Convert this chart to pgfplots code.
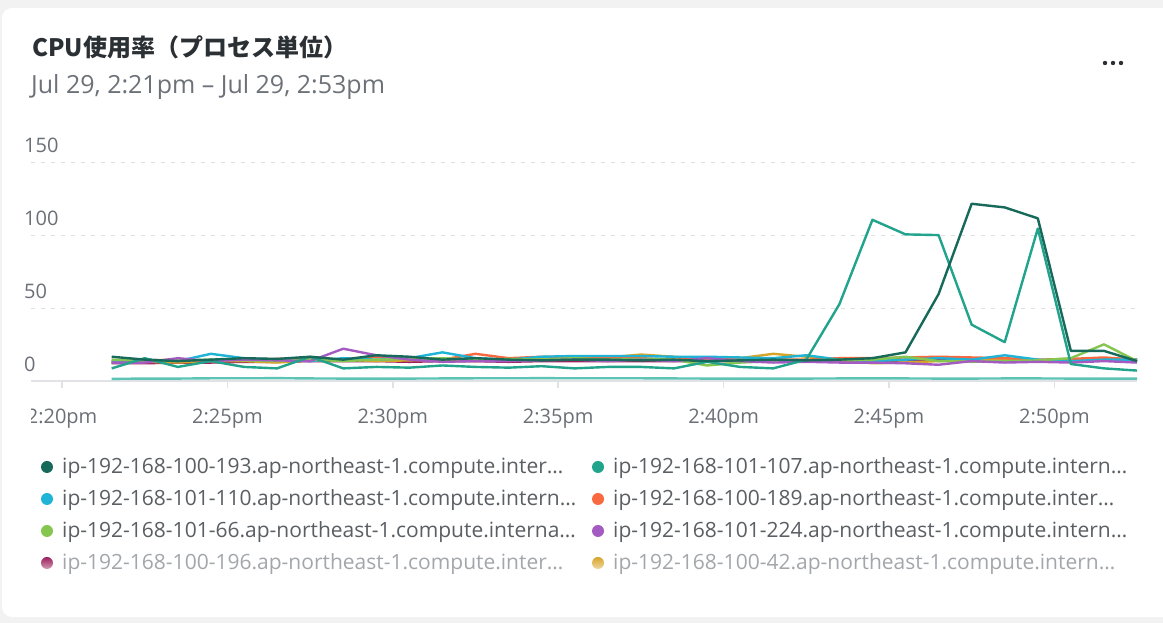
\documentclass[border=0pt]{standalone}
\usepackage{fontspec}
\setmainfont{Open Sans}
\newfontfamily\cjk{Noto Sans CJK JP}
\usepackage{pgfplots}
\pgfplotsset{compat=1.18}
\usepackage{pgfplotstable}
\definecolor{bgc}{HTML}{F2F2F2}
\definecolor{titlec}{HTML}{2B3035}
\definecolor{subc}{HTML}{6D7278}
\definecolor{tickc}{HTML}{6B7077}
\definecolor{legc}{HTML}{5A5F64}
\definecolor{legfade}{HTML}{A3A7AB}
\definecolor{gridc}{HTML}{DEDFE1}
\definecolor{axc}{HTML}{E0E2E5}
\definecolor{cA}{HTML}{17695A}
\definecolor{cB}{HTML}{22A38C}
\definecolor{cC}{HTML}{1FB3D6}
\definecolor{cD}{HTML}{F8693F}
\definecolor{cE}{HTML}{84C650}
\definecolor{cF}{HTML}{A35BC2}
\definecolor{cG}{HTML}{9C1F5C}
\definecolor{cH}{HTML}{D8A52B}
\definecolor{cI}{HTML}{5CC3B5}
\pgfplotstableread{
t    A     B     C    D    E    F    G    H    I
21.5 17    9     13   14   15   13   12.5 14   1.8
22.5 15    16    15   14.5 14   13   12.5 13.5 2.0
23.5 14    10    14   15   14.5 16   13   13   2.0
24.5 15    14    19   14   15   14   13   14   2.2
25.5 16    10    16   15   14.5 15   13.5 14   2.2
26.5 15.5  9     15   15.5 14   14.5 13.5 13   2.3
27.5 17    17    14   16   15   14   14   14.5 2.1
28.5 15    9     16   15   14   22.5 14   15   2.0
29.5 18    10    15   17   15   18   14   14   2.0
30.5 17    9.5   16   16   15.5 15   13.5 14.5 2.0
31.5 15    11    20   15   16   13.5 14   15   2.1
32.5 16    10    16   19   15   14   14   14   2.2
33.5 15    9.5   15   16   15.5 14   13.5 15   2.2
34.5 14.5  10.5  17   17   15   14.5 14   15.5 2.3
35.5 15    9     17.5 17   16   15   14   16   2.2
36.5 15    10    17.5 16.5 15   14   14   16.5 2.2
37.5 14.5  10    17.5 16   15.5 15   14   18.5 2.2
38.5 15    9     17   15   15   14   14   17   2.1
39.5 14    13.5  17   16   11   16   14   15   2.0
40.5 14.5  10    16.5 15   13   14   14   16   2.0
41.5 15    9     16   15   14   13   14.5 19   2.0
42.5 14.5  15    18   15   14.5 13.5 14   17   2.0
43.5 15    53    15   16   15   13   14.5 15   2.1
44.5 16    111   14   16   15   13   14   12.5 2.1
45.5 20    101   15   16.5 17   12.5 14.5 13   2.1
46.5 60    100.5 16   17   14   11.5 15   14   2.0
47.5 122   39    15   16.5 13.5 14   15   14.5 2.0
48.5 119.5 27    18   16   14   13   14.5 15   2.1
49.5 112   105   15   15   14.5 13.5 14   14   2.1
50.5 21    12    14   15.5 16   13   14.5 15   2.0
51.5 21    9     15   16.5 25.5 14   15   16   2.0
52.5 14    7.5   15   15   14   13   14   15   2.0
}\datatable
\newcommand{\legfont}{\fontsize{21}{25}\selectfont}
\begin{document}
\begin{tikzpicture}[x=1pt,y=1pt]
\path[use as bounding box] (0,0) rectangle (1163,623);
\fill[bgc] (0,0) rectangle (1163,623);
\fill[white, rounded corners=10pt] (2,6) rectangle (1190,615);
% title
\node[anchor=base west, inner sep=0pt, text=titlec] at (32,566) {\cjk\bfseries\fontsize{24}{28}\selectfont CPU使用率（プロセス単位）};
\node[anchor=base west, inner sep=0pt, text=subc] at (31,529) {\fontsize{25}{29}\selectfont Jul 29, 2:21pm – Jul 29, 2:53pm};
\fill[titlec] (1105,560) circle (2.2) (1113,560) circle (2.2) (1121,560) circle (2.2);
\begin{axis}[
  at={(31pt,241.5pt)}, anchor=south west,
  scale only axis, width=1106pt, height=218.5pt,
  xmin=19.06, xmax=52.5, ymin=0, ymax=150,
  clip=false,
  axis x line*=bottom, axis y line*=left,
  x axis line style={draw=axc, line width=2pt, -},
  y axis line style={draw=none},
  xtick={20,25,30,35,40,45,50},
  xticklabels={2:20pm,2:25pm,2:30pm,2:35pm,2:40pm,2:45pm,2:50pm},
  ytick={0,50,100,150},
  yticklabels={0,50,100,150},
  tick align=outside,
  x tick style={draw=axc, line width=1.5pt},
  major tick length=7pt,
  y tick style={draw=none},
  xticklabel style={anchor=base, inner sep=0pt, yshift=-35.5pt, text=tickc, font=\fontsize{20}{24}\selectfont},
  yticklabel style={anchor=base west, inner sep=0pt, yshift=10pt, text=tickc, font=\fontsize{20}{24}\selectfont},
  ymajorgrids,
  major grid style={draw=gridc, line width=1pt, dash pattern=on 4pt off 6pt},
  every axis plot/.append style={line width=2.4pt, line join=round, no markers},
]
\addplot[cI] table[x=t,y=I]{\datatable};
\addplot[cG] table[x=t,y=G]{\datatable};
\addplot[cH] table[x=t,y=H]{\datatable};
\addplot[cD] table[x=t,y=D]{\datatable};
\addplot[cC] table[x=t,y=C]{\datatable};
\addplot[cE] table[x=t,y=E]{\datatable};
\addplot[cF] table[x=t,y=F]{\datatable};
\addplot[cB] table[x=t,y=B]{\datatable};
\addplot[cA] table[x=t,y=A]{\datatable};
\end{axis}
% clip of the first tick label
\fill[white] (3,195) rectangle (30.5,232);
% legend
\fill[cA] (47,156) circle (6);
\node[anchor=base west, inner sep=0pt, text=legc] at (62,149) {\legfont ip-192-168-100-193.ap-northeast-1.compute.inter…};
\fill[cB] (598,156) circle (6);
\node[anchor=base west, inner sep=0pt, text=legc] at (613,149) {\legfont ip-192-168-101-107.ap-northeast-1.compute.intern…};
\fill[cC] (47,124) circle (6);
\node[anchor=base west, inner sep=0pt, text=legc] at (62,117) {\legfont ip-192-168-101-110.ap-northeast-1.compute.intern…};
\fill[cD] (598,124) circle (6);
\node[anchor=base west, inner sep=0pt, text=legc] at (613,117) {\legfont ip-192-168-100-189.ap-northeast-1.compute.inter…};
\fill[cE] (47,92) circle (6);
\node[anchor=base west, inner sep=0pt, text=legc] at (62,85) {\legfont ip-192-168-101-66.ap-northeast-1.compute.interna…};
\fill[cF] (598,92) circle (6);
\node[anchor=base west, inner sep=0pt, text=legc] at (613,85) {\legfont ip-192-168-101-224.ap-northeast-1.compute.intern…};
\shade[top color=cG, bottom color=cG!45!white] (47,60) circle (6);
\node[anchor=base west, inner sep=0pt, text=legfade] at (62,53) {\legfont ip-192-168-100-196.ap-northeast-1.compute.inter…};
\shade[top color=cH, bottom color=cH!45!white] (598,60) circle (6);
\node[anchor=base west, inner sep=0pt, text=legfade] at (613,53) {\legfont ip-192-168-100-42.ap-northeast-1.compute.intern…};
\end{tikzpicture}
\end{document}
